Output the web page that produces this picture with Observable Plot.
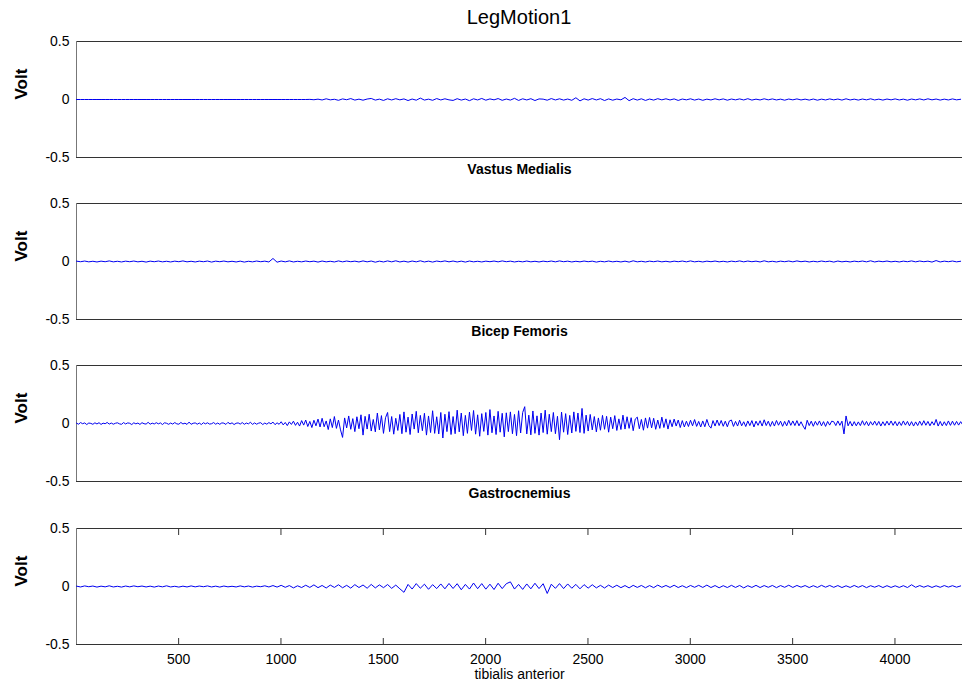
<!DOCTYPE html>
<html>
<head>
<meta charset="utf-8">
<script src="https://cdn.jsdelivr.net/npm/d3@7"></script>
<script src="https://cdn.jsdelivr.net/npm/@observablehq/plot@0.6"></script>
<style>
  body { margin: 0; background: #fff; }
  #chart { position: relative; width: 962px; height: 683px; background: #fff; overflow: hidden;
           font-family: "Liberation Sans", Arial, sans-serif; }
  #title { position: absolute; left: 76px; width: 886px; top: 6px; text-align: center;
           font-size: 20px; color: #000; }
  .panel { position: absolute; left: 0; }
</style>
</head>
<body>
<div id="chart"><div id="title"></div></div>
<script>
// ---- data ----
const chartTitle = "LegMotion1";
const panelLabels = ["Vastus Medialis", "Bicep Femoris", "Gastrocnemius", "tibialis anterior"];
const yLabel = "Volt";
const yTicks = [-0.5, 0, 0.5];
const xTicks = [500, 1000, 1500, 2000, 2500, 3000, 3500, 4000];
const xDomain = [1, 4330];
const yDomain = [-0.5, 0.5];

// signal values in millivolts; sample spacing of each list
const stepVastus = 20, stepBicep = 20, stepGastro = 10, stepTibialis = 20;

const vastusMedialis = [
  0,0,0,0,0,0,0,0,0,0, 0,0,0,0,0,0,0,0,0,0, 0,0,0,0,0,0,0,0,0,0,
  0,0,0,0,0,0,0,0,0,0, 0,0,0,0,0,0,0,0,0,0,
  0,0,0,0,0,0,0,1,-2,3,
  -4,6,-3,2,-7,5,-2,8,-5,3,
  -6,4,9,-5,3,-8,6,-4,7,-3,
  5,-9,4,-6,12,-5,3,-7,8,-4,
  6,-3,-8,7,-5,4,-10,6,-4,9,
  -6,5,-3,8,-7,4,-5,10,-8,6,
  -4,7,-9,5,3,-6,8,-4,6,-5,
  4,-7,15,-12,6,-5,8,-4,7,-9,
  5,-6,4,-3,18,-10,7,-5,6,-8,
  4,-5,7,-3,6,-4,5,-8,4,-3,
  6,-5,4,-7,3,-4,6,-3,5,-6,
  4,-3,5,-4,7,-5,3,-4,6,-3,
  5,-4,3,-6,4,-3,5,-4,3,-5,
  4,-6,3,-4,5,-3,4,-5,6,-4,
  3,-5,4,-3,6,-4,3,-5,4,-3,
  5,-4,3,-6,4,-3,5,-4,6,-3,
  4,-5,3,-4,5,-3,2
];

const bicepFemoris = [
  3,-2,4,-3,2,-4,3,-2,5,-3,
  2,-4,3,-2,4,-3,2,-5,3,-2,
  4,-3,2,-4,3,-2,5,-3,2,-4,
  3,-2,4,-5,3,-2,4,-3,2,-4,
  3,-5,2,-3,4,-2,3,-4,26,-6,
  4,-3,5,-4,2,-3,4,-2,3,-5,
  4,-3,2,-4,5,-3,4,-2,3,-4,
  5,-3,4,-6,3,-4,5,-3,6,-4,
  3,-5,4,-3,6,-4,3,-5,4,-2,
  5,-3,4,-4,3,-5,4,-3,2,-4,
  3,-2,4,-3,5,-2,3,-4,2,-3,
  4,-3,2,-4,3,-2,4,-3,5,-2,
  3,-4,2,-3,4,-2,3,-5,2,-3,
  4,-3,2,-4,3,-5,6,-3,2,-4,
  3,-2,4,-3,2,-4,3,-2,4,-3,
  5,-3,2,-4,3,-2,4,-3,2,-4,
  3,-2,5,-3,4,-2,3,-4,6,-3,
  2,-4,3,-2,4,-3,5,-2,3,-4,
  2,-3,4,-2,3,-5,4,-3,2,-4,
  3,-2,4,-3,6,-4,3,-2,4,-3,
  2,-4,3,-2,5,-3,4,-2,3,-5,
  8,-4,3,-2,4,-3,2
];

const gastrocnemius = [
  3,-6,8,-2,5,-9,4,1,-7,6,
  -4,7,-8,3,-2,9,-5,4,-6,2,
  6,-3,-7,8,-4,5,2,-9,6,-3,
  4,-8,7,-2,-5,10,-6,3,-4,7,
  -3,5,-9,6,2,-7,4,-5,8,-3,
  -6,9,-4,3,-8,12,-7,2,5,-6,
  4,-9,7,-3,6,-5,-2,8,-6,4,
  -7,5,3,-8,10,-4,6,-9,2,5,
  -5,8,-7,4,-3,11,-8,5,-6,3,
  7,-9,4,-6,8,-3,12,-10,6,-7,
  15,-12,9,-18,14,-8,20,-16,11,-22,
  25,-14,30,-26,18,-35,28,-20,38,-30,
  45,-28,22,-52,40,-35,60,-42,30,-55,
  -120,48,-38,65,-50,42,-70,58,-45,75,
  -100,62,-48,80,-65,35,-72,90,-55,68,
  -85,50,95,-70,60,-92,45,-60,78,-88,
  100,-75,55,-95,82,-48,105,-80,70,-62,
  88,-100,65,-78,110,-85,58,-90,95,-125,
  80,-70,102,-95,60,-88,115,-72,90,-105,
  70,-85,98,-60,112,-92,75,-110,85,-68,
  95,-100,120,-80,65,-95,105,-75,88,-115,
  92,-70,100,-88,78,-105,110,-82,95,145,
  -90,72,-98,108,-85,66,-100,90,-78,115,
  -92,80,-70,95,-88,62,-140,98,-75,85,
  -95,70,-82,100,-68,90,-78,130,-85,72,
  -65,78,-55,60,-72,48,-58,70,-50,62,
  -75,55,-45,68,-60,40,-52,72,-48,58,
  -42,50,-62,38,55,-45,35,-58,48,-40,
  52,-38,45,-50,30,-42,55,-35,40,-48,
  32,-28,38,-22,30,-35,25,-30,20,-26,
  28,-20,34,-25,18,-30,22,-28,35,-18,
  -40,25,-22,30,-18,26,-24,20,-28,22,
  30,-25,18,-22,28,-20,15,-26,22,-18,
  25,-30,20,-16,24,-22,32,-18,20,-25,
  18,-22,26,-15,20,-24,18,-20,28,-16,
  22,-18,25,-20,15,-22,-50,28,-18,20,
  -24,18,-15,22,-20,16,-25,18,-14,20,
  15,-18,22,-16,20,-90,65,-20,18,-22,
  16,-20,14,-18,24,-15,18,-20,16,-14,
  20,-16,18,-22,15,-18,20,-14,22,-16,
  18,-20,15,-17,22,-14,18,-20,16,-22,
  14,-18,20,-16,24,-15,18,-20,16,-14,
  35,-22,18,-20,15,-18,22,-16,20,-15,
  18,-14,16,-12
];

const tibialisAnterior = [
  3,-4,5,-2,4,-5,3,-3,6,-4,
  2,-5,4,-3,5,-2,4,-4,3,-5,
  4,-3,6,-4,2,-5,3,-4,5,-3,
  4,-2,5,-4,3,-5,4,-3,2,-4,
  5,-3,4,-5,3,-2,6,-4,8,-5,
  10,-7,8,-12,6,-9,11,-8,14,-10,
  9,-13,12,-8,15,-11,10,-14,16,-9,
  13,-15,18,-12,14,-10,17,-16,12,-20,
  -50,18,-22,25,-15,20,-24,16,-18,22,
  -20,26,-17,24,-28,18,-22,30,-19,25,
  -23,20,-26,28,-18,24,40,-22,18,-25,
  22,-20,28,-18,24,-60,20,-16,25,-18,
  22,-15,18,-20,16,-14,15,-12,10,-13,
  12,-9,11,-10,8,-12,10,-8,9,-11,
  8,-10,12,-7,9,-8,11,-9,7,-10,
  9,-7,10,-8,12,-9,8,-11,7,-9,
  10,-8,9,-12,7,-8,10,-9,8,-7,
  9,-10,8,-7,11,-8,9,-6,8,-9,
  7,-8,10,-6,9,-7,8,-9,6,-8,
  9,-7,8,-10,7,-6,8,-9,7,-8,
  6,-8,7,-9,15,-7,8,-6,7,-8,
  6,-7,8,-5,7,-6,5
];

// ---- drawing ----
const series = [
  {values: vastusMedialis, step: stepVastus},
  {values: bicepFemoris, step: stepBicep},
  {values: gastrocnemius, step: stepGastro},
  {values: tibialisAnterior, step: stepTibialis}
];
document.getElementById("title").textContent = chartTitle;

const panelTops = [41, 203, 365, 528];
const frameH = 116;
const mTop = 6, mBottom = 42;
const font = "'Liberation Sans', Arial, sans-serif";
const chart = document.getElementById("chart");

series.forEach((s, k) => {
  const data = s.values.map((mv, i) => ({x: 1 + i * s.step, y: mv / 1000}));
  const last = k === series.length - 1;
  const marks = [
    Plot.ruleY(yDomain, {stroke: "#333", strokeWidth: 1}),
    Plot.ruleX([xDomain[0]], {stroke: "#777", strokeWidth: 1}),
    Plot.lineY(data, {x: "x", y: "y", stroke: "#0000f0", strokeWidth: 1}),
    Plot.axisY({ticks: yTicks, tickSize: 0, tickPadding: 7, tickFormat: d => String(d),
                fontSize: 14, fill: "#000", label: null}),
    Plot.text([yLabel], {frameAnchor: "left", dx: -55, rotate: -90, fontSize: 17,
                fontWeight: "bold", fill: "#000"}),
    Plot.text([panelLabels[k]], {frameAnchor: "bottom", dy: last ? 34 : 16,
                fontSize: 14, fontWeight: last ? "normal" : "bold", fill: "#000"})
  ];
  if (last) {
    marks.push(
      Plot.axisX({anchor: "bottom", ticks: xTicks, tickSize: -6, tickPadding: 16,
                  tickFormat: d => String(d), fontSize: 14, fill: "#000", stroke: "#333", label: null}),
      Plot.axisX({anchor: "top", ticks: xTicks, tickSize: -6, tickFormat: () => "",
                  stroke: "#333", label: null})
    );
  }
  const svg = Plot.plot({
    width: 962,
    height: frameH + mTop + mBottom,
    marginLeft: 76,
    marginRight: 0,
    marginTop: mTop,
    marginBottom: mBottom,
    style: {fontFamily: font, fontSize: "14px", background: "transparent", overflow: "visible"},
    x: {domain: xDomain, axis: null},
    y: {domain: yDomain, axis: null},
    marks
  });
  const wrap = document.createElement("div");
  wrap.className = "panel";
  wrap.style.top = (panelTops[k] - mTop) + "px";
  wrap.appendChild(svg);
  chart.appendChild(wrap);
});
</script>
</body>
</html>
